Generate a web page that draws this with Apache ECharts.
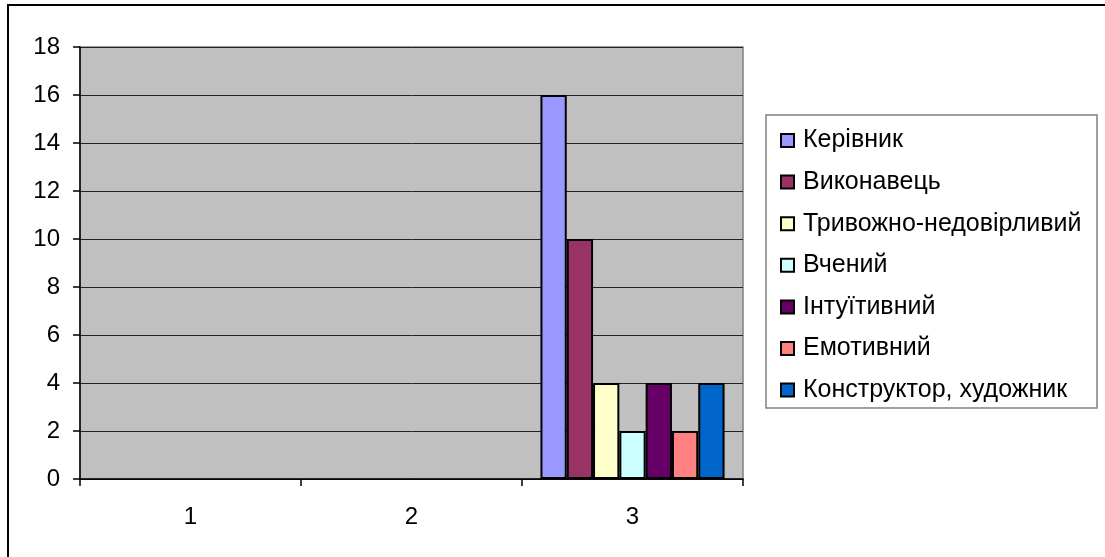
<!DOCTYPE html>
<html>
<head>
<meta charset="utf-8">
<script src="https://cdn.jsdelivr.net/npm/echarts@6/dist/echarts.min.js"></script>
<style>
html,body{margin:0;padding:0;background:#fff;}
#c{width:1105px;height:557px;}
</style>
</head>
<body>
<div id="c"></div>
<script>
const categories = ['1', '2', '3'];
const seriesNames = ['Керівник', 'Виконавець', 'Тривожно-недовірливий', 'Вчений', 'Інтуїтивний', 'Емотивний', 'Конструктор, художник'];
const keriv = [null, null, 16];
const vykon = [null, null, 10];
const tryv = [null, null, 4];
const vchen = [null, null, 2];
const intuit = [null, null, 4];
const emot = [null, null, 2];
const konstr = [null, null, 4];
const seriesValues = [keriv, vykon, tryv, vchen, intuit, emot, konstr];
const colors = ['#9999FF', '#993366', '#FFFFCC', '#CCFFFF', '#660066', '#FF8080', '#0066CC'];
const yTicks = [0, 2, 4, 6, 8, 10, 12, 14, 16, 18];

const FONT = '"Liberation Sans", Arial, sans-serif';
const chart = echarts.init(document.getElementById('c'));
chart.setOption({
  backgroundColor: '#ffffff',
  animation: false,
  graphic: [
    { type: 'rect', shape: { x: 8, y: 5, width: 1110, height: 570 }, style: { fill: 'none', stroke: '#000', lineWidth: 2 }, z: 100 },
    { type: 'rect', shape: { x: 766, y: 115, width: 331, height: 293 }, style: { fill: 'none', stroke: '#808080', lineWidth: 1.5 }, z: 100 }
  ],
  grid: { left: 80, right: 362, top: 47, bottom: 78, show: true, backgroundColor: '#c0c0c0', borderColor: '#808080', borderWidth: 1.5 },
  legend: {
    orient: 'vertical', left: 775, top: 123,
    itemWidth: 13, itemHeight: 13, itemGap: 16.6,
    icon: 'rect',
    textStyle: { fontFamily: FONT, fontSize: 25, color: '#000', padding: [0, 0, 0, 4] },
    data: seriesNames
  },
  xAxis: {
    type: 'category', data: categories,
    axisLine: { lineStyle: { color: '#000', width: 1.5 } },
    axisTick: { show: true, length: 7, lineStyle: { color: '#000', width: 1.5 } },
    axisLabel: { fontFamily: FONT, fontSize: 24, color: '#000', margin: 26 },
    splitLine: { show: false }
  },
  yAxis: {
    type: 'value', min: yTicks[0], max: yTicks[yTicks.length - 1], interval: 2,
    axisLine: { show: true, lineStyle: { color: '#000', width: 1.5 } },
    axisTick: { show: true, length: 7, lineStyle: { color: '#000', width: 1.5 } },
    axisLabel: { fontFamily: FONT, fontSize: 24, color: '#000', margin: 20 },
    splitLine: { show: true, lineStyle: { color: '#222', width: 1 } }
  },
  series: seriesNames.map((name, i) => ({
    name: name, type: 'bar', data: seriesValues[i],
    barWidth: 26.3, barGap: '0%',
    itemStyle: { color: colors[i], borderColor: '#000', borderWidth: 2 }
  }))
});
</script>
</body>
</html>
